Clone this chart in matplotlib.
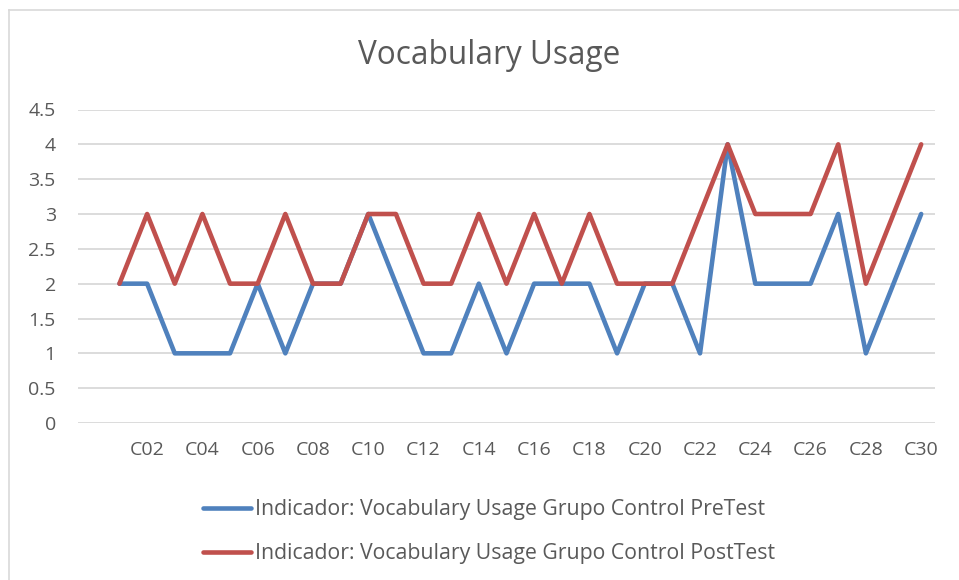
import matplotlib
matplotlib.use('Agg')
import matplotlib.pyplot as plt
from matplotlib.lines import Line2D

# categories: Excel chart has an empty first category before C01
categories = [''] + ['C%02d' % i for i in range(1, 31)]
pre_test = [2, 2, 1, 1, 1, 2, 1, 2, 2, 3,
            2, 1, 1, 2, 1, 2, 2, 2, 1, 2,
            2, 1, 4, 2, 2, 2, 3, 1, 2, 3]
post_test = [2, 3, 2, 3, 2, 2, 3, 2, 2, 3,
             3, 2, 2, 3, 2, 3, 2, 3, 2, 2,
             2, 3, 4, 3, 3, 3, 4, 2, 3, 4]
y_ticks = [0, 0.5, 1, 1.5, 2, 2.5, 3, 3.5, 4, 4.5]
y_tick_labels = ['0', '0.5', '1', '1.5', '2', '2.5', '3', '3.5', '4', '4.5']
series_names = ['Indicador: Vocabulary Usage Grupo Control PreTest',
                'Indicador: Vocabulary Usage Grupo Control PostTest']

plt.rcParams['font.family'] = ['Open Sans', 'DejaVu Sans']
c_blue = '#4F81BD'
c_red = '#C0504D'
c_text = '#595959'
c_grid = '#D9D9D9'

W, H = 959, 580
fig = plt.figure(figsize=(W / 100, H / 100), dpi=100)
ax = fig.add_axes([78 / W, 1 - 423 / H, (935 - 78) / W, (423 - 109.5) / H])

x = list(range(1, len(categories)))
l1, = ax.plot(x, pre_test, color=c_blue, lw=3.3, solid_capstyle='round', solid_joinstyle='round')
l2, = ax.plot(x, post_test, color=c_red, lw=3.3, solid_capstyle='round', solid_joinstyle='round')

ax.set_xlim(-0.5, len(categories) - 0.5)
ax.set_ylim(0, 4.5)
ax.set_yticks(y_ticks)
ax.set_yticklabels(y_tick_labels)
ax.set_xticks(range(0, len(categories), 2))
ax.set_xticklabels(categories[::2])
ax.yaxis.grid(True, color=c_grid, lw=1.3)
ax.set_axisbelow(True)
for s in ax.spines.values():
    s.set_visible(False)
ax.tick_params(length=0, labelsize=14, colors=c_text)
ax.tick_params(axis='y', pad=16)
ax.tick_params(axis='x', pad=13)

fig.text(489 / W, 1 - 55 / H, 'Vocabulary Usage', ha='center', va='center',
         fontsize=22.7, color=c_text)

# legend
leg = fig.legend([l1, l2], series_names, loc='upper left',
                 bbox_to_anchor=(203 / W, 1 - 499 / H), frameon=False,
                 fontsize=15.3, handlelength=2.25, handletextpad=0.2,
                 labelspacing=1.1, borderpad=0, borderaxespad=0)
for t in leg.get_texts():
    t.set_color(c_text)

# chart border (left + top visible)
fig.add_artist(Line2D([8.5 / W, 8.5 / W], [0, 1 - 10 / H], color=c_grid, lw=1.2))
fig.add_artist(Line2D([8.5 / W, 1], [1 - 10 / H, 1 - 10 / H], color=c_grid, lw=1.2))

fig.savefig('out.png', dpi=100, facecolor='white')
